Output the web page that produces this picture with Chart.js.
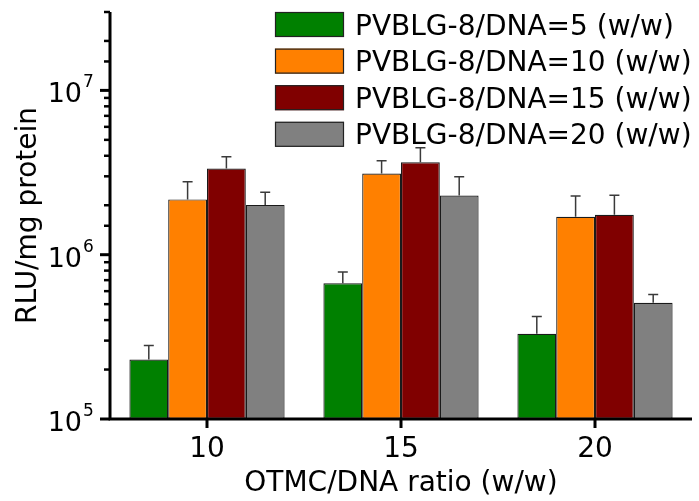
<!DOCTYPE html>
<html>
<head>
<meta charset="utf-8">
<script src="https://cdn.jsdelivr.net/npm/chart.js@4/dist/chart.umd.min.js"></script>
<style>
  html, body { margin: 0; padding: 0; background: #ffffff; }
  #wrap { width: 699px; height: 501px; position: relative; }
</style>
</head>
<body>
<div id="wrap"><canvas id="c" width="699" height="501"></canvas></div>
<script>
// OTMC/DNA ratio groups
const categories = ['10', '15', '20'];

// Luciferase expression (RLU/mg protein) for each PVBLG-8/DNA ratio
const seriesLabels = [
  'PVBLG-8/DNA=5 (w/w)',
  'PVBLG-8/DNA=10 (w/w)',
  'PVBLG-8/DNA=15 (w/w)',
  'PVBLG-8/DNA=20 (w/w)'
];
const ratio5  = [2.3e5, 6.7e5, 3.3e5];
const ratio10 = [2.17e6, 3.12e6, 1.70e6];
const ratio15 = [3.35e6, 3.65e6, 1.75e6];
const ratio20 = [2.01e6, 2.29e6, 5.1e5];

// Standard deviations (upper error bars)
const ratio5Err  = [0.5e5, 1.15e5, 0.9e5];
const ratio10Err = [0.61e6, 0.61e6, 0.58e6];
const ratio15Err = [0.59e6, 0.82e6, 0.55e6];
const ratio20Err = [0.39e6, 0.69e6, 0.63e5];

// Decade labels on the value axis
const yTickValues = [1e5, 1e6, 1e7];

const seriesColors = ['#008000', '#FF8000', '#800000', '#808080'];
const FONT = "'DejaVu Sans', 'Liberation Sans', Arial, sans-serif";

const values = [ratio5, ratio10, ratio15, ratio20];
const errors = [ratio5Err, ratio10Err, ratio15Err, ratio20Err];

const decorations = {
  id: 'decorations',
  afterDatasetsDraw(chart) {
    // upper error bars
    const ctx = chart.ctx;
    const y = chart.scales.y;
    ctx.save();
    ctx.strokeStyle = '#3a3a3a';
    ctx.lineWidth = 1.5;
    chart.data.datasets.forEach((ds, di) => {
      const meta = chart.getDatasetMeta(di);
      meta.data.forEach((bar, i) => {
        const top = y.getPixelForValue(ds.data[i]);
        const end = y.getPixelForValue(ds.data[i] + errors[di][i]);
        ctx.beginPath();
        ctx.moveTo(bar.x, top);
        ctx.lineTo(bar.x, end);
        ctx.moveTo(bar.x - 5, end);
        ctx.lineTo(bar.x + 5, end);
        ctx.stroke();
      });
    });
    ctx.restore();
  },
  afterDraw(chart) {
    const ctx = chart.ctx;
    const a = chart.chartArea;
    const xs = chart.scales.x;
    const ys = chart.scales.y;
    ctx.save();
    ctx.strokeStyle = '#000';
    ctx.lineCap = 'butt';

    // axis lines
    ctx.lineWidth = 3;
    ctx.beginPath();
    ctx.moveTo(a.left, a.top);
    ctx.lineTo(a.left, a.bottom + 1.5);
    ctx.moveTo(a.left - 1.5, a.bottom);
    ctx.lineTo(a.right, a.bottom);
    ctx.stroke();

    // y ticks (major at decades, minor elsewhere)
    ys.ticks.forEach(t => {
      const p = ys.getPixelForValue(t.value);
      const lg = Math.log10(t.value);
      const major = Math.abs(lg - Math.round(lg)) < 1e-9;
      ctx.lineWidth = major ? 3 : 2.5;
      ctx.beginPath();
      ctx.moveTo(a.left, p);
      ctx.lineTo(a.left - (major ? 10 : 6), p);
      ctx.stroke();
    });

    // decade labels: "10" with raised exponent
    ctx.fillStyle = '#000';
    ctx.textBaseline = 'alphabetic';
    yTickValues.forEach(v => {
      const p = ys.getPixelForValue(v);
      const exp = String(Math.round(Math.log10(v)));
      ctx.font = '27px ' + FONT;
      ctx.textAlign = 'right';
      ctx.fillText('10', a.left - 28, p + 12);
      ctx.font = '17px ' + FONT;
      ctx.textAlign = 'left';
      ctx.fillText(exp, a.left - 27, p - 3);
    });

    // x category ticks
    ctx.lineWidth = 3;
    categories.forEach((c, i) => {
      const p = xs.getPixelForValue(i);
      ctx.beginPath();
      ctx.moveTo(p, a.bottom);
      ctx.lineTo(p, a.bottom + 9);
      ctx.stroke();
    });

    // legend
    const lx = 275, ly = 12, bw = 69, bh = 25, gap = 36.6;
    ctx.font = '28px ' + FONT;
    ctx.textBaseline = 'alphabetic';
    ctx.textAlign = 'left';
    chart.data.datasets.forEach((ds, i) => {
      const top = ly + i * gap;
      ctx.fillStyle = ds.backgroundColor;
      ctx.fillRect(lx, top, bw, bh);
      ctx.lineWidth = 1.2;
      ctx.strokeStyle = '#222';
      ctx.strokeRect(lx + 0.5, top + 0.5, bw - 1, bh - 1);
      ctx.fillStyle = '#000';
      ctx.fillText(ds.label, lx + 80, top + bh / 2 + 10);
    });
    ctx.restore();
  }
};

new Chart(document.getElementById('c'), {
  type: 'bar',
  data: {
    labels: categories,
    datasets: values.map((v, i) => ({
      label: seriesLabels[i],
      data: v,
      backgroundColor: seriesColors[i],
      borderColor: '#1a1a1a',
      borderWidth: 1.2,
      borderSkipped: false,
      categoryPercentage: 0.8,
      barPercentage: 1.0
    }))
  },
  options: {
    responsive: false,
    animation: false,
    devicePixelRatio: 1,
    layout: { padding: { top: 12, right: 7, left: 0, bottom: 0 } },
    plugins: { legend: { display: false }, tooltip: { enabled: false } },
    scales: {
      x: {
        type: 'category',
        offset: true,
        grid: { display: false, drawTicks: false },
        border: { display: false },
        ticks: { color: '#000', font: { family: FONT, size: 28 }, padding: 14, maxRotation: 0 },
        title: { display: true, text: 'OTMC/DNA ratio (w/w)', color: '#000',
                 font: { family: FONT, size: 28 }, padding: { top: 0, bottom: 0 } },
        afterFit(s) { s.height = 82; s.paddingLeft = 0; s.paddingRight = 0; }
      },
      y: {
        type: 'logarithmic',
        min: 1e5,
        max: 3e7,
        grid: { display: false, drawTicks: false },
        border: { display: false },
        ticks: { display: false, autoSkip: false },
        title: { display: true, text: 'RLU/mg protein', color: '#000',
                 font: { family: FONT, size: 28 }, padding: { top: 12, bottom: 0 } },
        afterFit(s) { s.width = 110; s.paddingTop = 0; s.paddingBottom = 0; }
      }
    }
  },
  plugins: [decorations]
});
</script>
</body>
</html>
